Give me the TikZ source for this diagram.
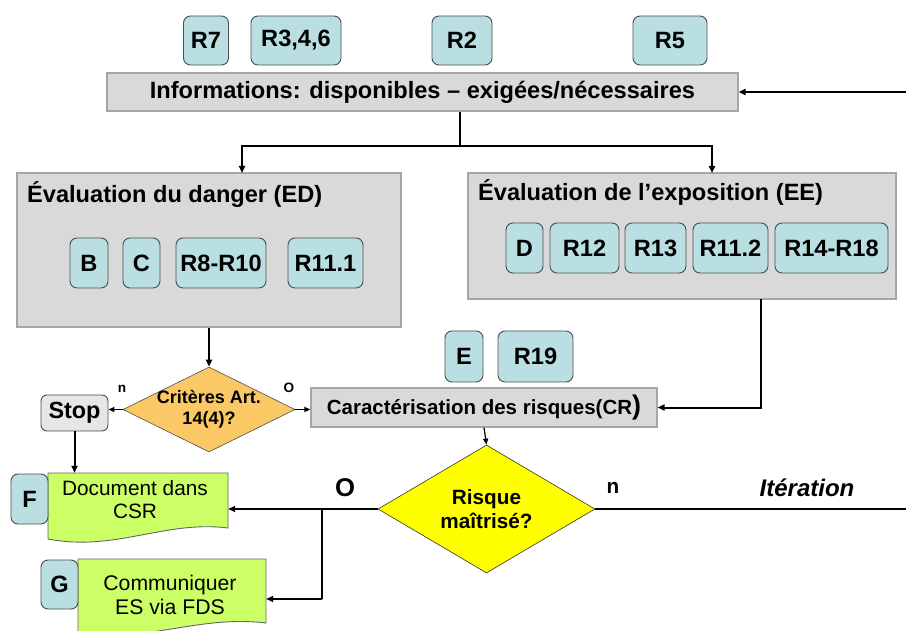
\documentclass[tikz,border=0pt]{standalone}
\usepackage{fontspec}
\setmainfont{Liberation Sans}
\usetikzlibrary{arrows.meta,shapes.geometric,calc}
\definecolor{boxblue}{RGB}{185,223,227}
\definecolor{boxgray}{RGB}{217,217,217}
\definecolor{stopgray}{RGB}{230,230,230}
\definecolor{critorange}{RGB}{250,200,100}
\definecolor{riskyellow}{RGB}{255,255,0}
\definecolor{docgreen}{RGB}{204,255,102}
\tikzset{
  bluebox/.style={draw=black!70, fill=boxblue, rounded corners=7pt, line width=0.9pt, inner sep=0pt,
    font=\fontsize{23.6}{26}\selectfont\bfseries},
  graybox/.style={draw=black!35, fill=boxgray, line width=1.2pt, inner sep=0pt},
  arr/.style={line width=2pt, -{Triangle[length=7pt,width=6pt]}},
  thinarr/.style={line width=1.2pt, -{Triangle[length=6pt,width=5pt]}},
  conn/.style={line width=2pt},
  doc/.style={draw=black!60, fill=docgreen, line width=0.9pt},
  lbl/.style={inner sep=0pt, font=\bfseries},
}
\begin{document}
\begin{tikzpicture}[x=1pt,y=-1pt]
\useasboundingbox (0,0) rectangle (906,631);
\clip (0,0) rectangle (906,631);

% top references
\node[bluebox, minimum width=45pt, minimum height=49pt] (r7) at (206,40.5) {R7};
\node[bluebox, minimum width=90pt, minimum height=49pt] (r346) at (296,40.5) {R3,4,6};
\node[bluebox, minimum width=60pt, minimum height=49pt] (r2) at (462,40.5) {R2};
\node[bluebox, minimum width=74pt, minimum height=49pt] (r5) at (670,40.5) {R5};

% information box
\node[graybox, minimum width=631pt, minimum height=38pt, font=\fontsize{23.6}{26}\selectfont\bfseries] (info) at (422.5,92)
  {Informations: disponibles -- exigées/nécessaires};
\coordinate (inR) at (906,92);
\draw[arr] (inR) -- (info.east);

% ED box
\node[graybox, minimum width=384pt, minimum height=154pt] (ED) at (209,250) {};
\node[lbl, anchor=west, font=\fontsize{23.6}{26}\selectfont\bfseries] (EDt) at (27,195) {Évaluation du danger (ED)};
\node[bluebox, minimum width=38pt, minimum height=50pt] (B) at (89,263) {B};
\node[bluebox, minimum width=37pt, minimum height=50pt] (C) at (141.5,263) {C};
\node[bluebox, minimum width=90pt, minimum height=50pt] (r810) at (221,263) {R8-R10};
\node[bluebox, minimum width=75pt, minimum height=50pt] (r111) at (325.5,263) {R11.1};

% EE box
\node[graybox, minimum width=428pt, minimum height=126pt] (EE) at (682,236) {};
\node[lbl, anchor=west, font=\fontsize{23.6}{26}\selectfont\bfseries] (EEt) at (478,192) {Évaluation de l’exposition (EE)};
\node[bluebox, minimum width=37pt, minimum height=50pt] (D) at (524.5,248) {D};
\node[bluebox, minimum width=69pt, minimum height=50pt] (r12) at (584.5,248) {R12};
\node[bluebox, minimum width=61pt, minimum height=50pt] (r13) at (655.5,248) {R13};
\node[bluebox, minimum width=75pt, minimum height=50pt] (r112) at (730.5,248) {R11.2};
\node[bluebox, minimum width=113pt, minimum height=50pt] (r1418) at (831.5,248) {R14-R18};

% split from information
\coordinate (sp) at (460,146);
\coordinate (edin) at (242,173);
\coordinate (eein) at (712,173);
\draw[conn] (info.south -| sp) -- (sp);
\draw[arr] (sp) -| (edin);
\draw[arr] (sp) -| (eein);

% criteria diamond
\node[diamond, draw=black!70, fill=critorange, line width=0.6pt, inner sep=0pt,
  minimum width=172pt, minimum height=85pt,
  label={[align=center, font=\fontsize{18}{21}\selectfont\bfseries]center:Critères Art.\\14(4)?}] (crit) at (209,409.5) {};
\draw[arr] (ED.south) -- (crit.north);

% stop
\node[draw=black!70, fill=stopgray, rounded corners=6pt, line width=0.9pt, inner sep=0pt,
  minimum width=67pt, minimum height=36pt, font=\fontsize{23.4}{26}\selectfont\bfseries] (stop) at (74.5,413) {Stop};
\draw[thinarr] (crit.west) -- (crit.west -| stop.east);
\node[lbl, font=\fontsize{13.6}{15}\selectfont\bfseries] (nlab1) at (122,389) {n};
\node[lbl, font=\fontsize{13.6}{15}\selectfont\bfseries] (olab1) at (289,388) {O};

% risk characterisation
\node[bluebox, minimum width=38pt, minimum height=51pt] (E) at (464,356.5) {E};
\node[bluebox, minimum width=75pt, minimum height=51pt] (r19) at (535.5,356.5) {R19};
\node[graybox, minimum width=346pt, minimum height=39pt, font=\fontsize{20.5}{24}\selectfont\bfseries] (CR) at (484,407.5)
  {Caractérisation des risques(CR{\fontsize{27}{27}\selectfont)}};
\draw[thinarr] (crit.east) -- (crit.east -| CR.west);
\coordinate (eeo) at (761,299);
\draw[arr] (eeo) |- (CR.east);

% risk diamond
\node[diamond, draw=black!80, fill=riskyellow, line width=0.6pt, inner sep=0pt,
  minimum width=217pt, minimum height=128pt,
  label={[align=center, font=\fontsize{20.7}{24}\selectfont\bfseries]center:Risque\\maîtrisé?}] (risk) at (486.5,509) {};
\draw[thinarr] (CR.south) -- (risk.north);

% documents
\draw[doc] (48,473) -- (228,473) -- (228,528) .. controls (165,520) and (115,552) .. (48,539) -- cycle;
\node[inner sep=0pt, minimum width=186pt, minimum height=54pt, align=center,
  font=\fontsize{20.8}{23}\selectfont] (doc1) at (135,500) {Document dans\\CSR};
\node[bluebox, minimum width=37pt, minimum height=50pt] (F) at (29.5,499) {F};

\draw[doc] (78,559) -- (266,559) -- (266,623) .. controls (200,615) and (150,642) .. (78,634) -- cycle;
\node[inner sep=0pt, minimum width=192pt, minimum height=72pt, align=center,
  font=\fontsize{21.2}{24}\selectfont] (doc2) at (170,595) {Communiquer\\ES via FDS};
\node[bluebox, minimum width=37pt, minimum height=49pt] (G) at (59.5,584.5) {G};

\draw[arr] (stop.south) -- (stop.south |- doc1.north);

% outcome of risk diamond
\coordinate (jn) at (322,509);
\coordinate (jn2) at (322,599);
\coordinate (itR) at (906,509);
\draw[conn] (risk.west) -- (jn);
\draw[arr] (jn) -- (jn -| doc1.east);
\draw[conn] (jn) -- (jn2);
\draw[arr] (jn2) -- (jn2 -| doc2.east);
\draw[conn] (risk.east) -- (itR);
\node[lbl, font=\fontsize{25.7}{28}\selectfont\bfseries] (olab2) at (345,488) {O};
\node[lbl, font=\fontsize{20.7}{24}\selectfont\bfseries] (nlab2) at (613,488) {n};
\node[lbl, font=\fontsize{24}{28}\selectfont\bfseries\itshape] (iter) at (807,488) {Itération};
\end{tikzpicture}
\end{document}
